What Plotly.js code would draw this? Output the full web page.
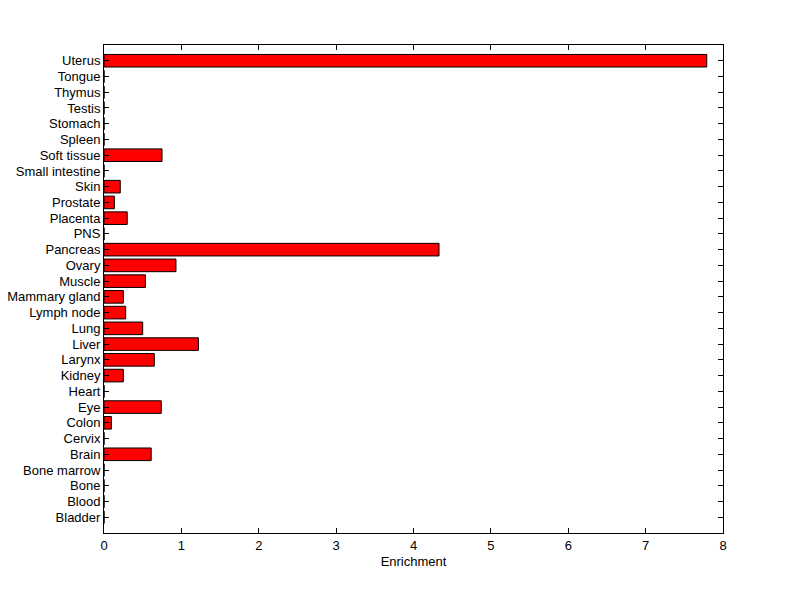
<!DOCTYPE html>
<html>
<head>
<meta charset="utf-8">
<script src="https://cdn.plot.ly/plotly-3.0.1.min.js"></script>
<style>html,body{margin:0;padding:0;background:#fff;}#chart{width:800px;height:599px;}</style>
</head>
<body>
<div id="chart"></div>
<script>
const tissues = ["Bladder","Blood","Bone","Bone marrow","Brain","Cervix","Colon","Eye","Heart","Kidney","Larynx","Liver","Lung","Lymph node","Mammary gland","Muscle","Ovary","Pancreas","PNS","Placenta","Prostate","Skin","Small intestine","Soft tissue","Spleen","Stomach","Testis","Thymus","Tongue","Uterus"];
const enrichment = [0,0,0,0,0.61,0,0.095,0.74,0,0.25,0.65,1.22,0.50,0.28,0.25,0.535,0.93,4.33,0,0.30,0.134,0.21,0,0.75,0,0,0,0,0,7.79];
const xTicks = [0,1,2,3,4,5,6,7,8];
const xTitle = "Enrichment";

const idx = tissues.map((_, i) => i);

Plotly.newPlot('chart', [{
  type: 'bar',
  orientation: 'h',
  x: enrichment,
  y: idx,
  width: 0.8,
  marker: {color: '#ff0000', line: {color: '#000000', width: 1}},
  hoverinfo: 'x+text',
  text: tissues,
  textposition: 'none'
}], {
  width: 800, height: 599,
  paper_bgcolor: '#ffffff', plot_bgcolor: '#ffffff',
  margin: {l: 104, r: 77, t: 45, b: 66},
  showlegend: false,
  font: {family: 'Liberation Sans, Arial, sans-serif', size: 13, color: '#000'},
  xaxis: {
    range: [0, 8], tickvals: xTicks, ticktext: xTicks.map(String),
    ticks: 'inside', ticklen: 5, tickcolor: '#000', tickwidth: 1,
    showline: true, linecolor: '#000', linewidth: 1, mirror: 'ticks',
    showgrid: false, zeroline: false,
    title: {text: xTitle, font: {size: 13}, standoff: 5},
    tickfont: {size: 13}
  },
  yaxis: {
    range: [-1, 30], tickvals: idx, ticktext: tissues,
    ticks: 'inside', ticklen: 5, tickcolor: '#000', tickwidth: 1,
    showline: true, linecolor: '#000', linewidth: 1, mirror: 'ticks',
    showgrid: false, zeroline: false,
    tickfont: {size: 13}
  }
}, {staticPlot: true});
</script>
</body>
</html>
